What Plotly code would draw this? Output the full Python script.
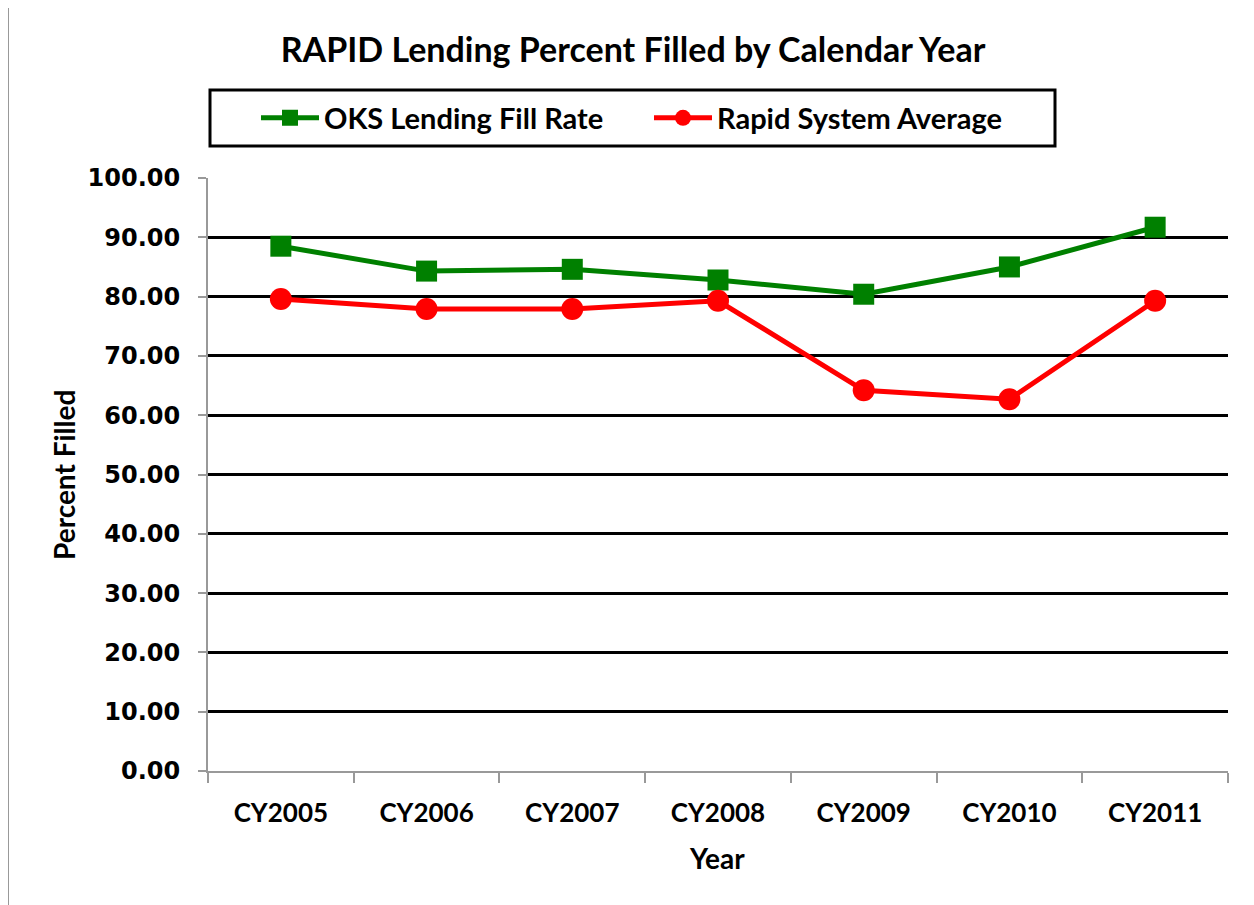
import plotly.graph_objects as go

years = ["CY2005", "CY2006", "CY2007", "CY2008", "CY2009", "CY2010", "CY2011"]
oks_fill_rate = [88.5, 84.3, 84.6, 82.8, 80.4, 85.0, 91.7]
rapid_average = [79.6, 77.9, 77.9, 79.3, 64.2, 62.7, 79.3]
y_ticks = [0, 10, 20, 30, 40, 50, 60, 70, 80, 90, 100]

LBL = "Lato, 'Open Sans', sans-serif"
NUM = "'DejaVu Sans', Verdana, sans-serif"

# plot area in figure pixels (page is offset by 8px body margin)
L, T, PW, PH = 200, 170, 1020, 593


def px(xf):
    return (xf - L) / PW


def py(yf):
    return (T + PH - yf) / PH


fig = go.Figure()
fig.add_trace(go.Scatter(
    x=years, y=oks_fill_rate, name="<b>OKS Lending Fill Rate</b>",
    mode="lines+markers",
    line=dict(color="#008000", width=5),
    marker=dict(symbol="square", size=21, color="#008000"),
))
fig.add_trace(go.Scatter(
    x=years, y=rapid_average, name="<b>Rapid System Average</b>",
    mode="lines+markers",
    line=dict(color="#FF0000", width=5),
    marker=dict(symbol="circle", size=22, color="#FF0000"),
))

fig.update_layout(
    width=1254, height=905,
    margin=dict(l=L, r=1254 - L - PW, t=T, b=905 - T - PH),
    paper_bgcolor="white", plot_bgcolor="white",
    title=dict(text="<b>RAPID Lending Percent Filled by Calendar Year</b>",
               x=625 / 1254, xanchor="center", y=1 - 42 / 905, yanchor="middle",
               font=dict(family=LBL, size=34, color="black")),
    legend=dict(orientation="h", x=px(248), xanchor="left",
                y=py(110), yanchor="middle",
                borderwidth=0, bgcolor="rgba(0,0,0,0)",
                font=dict(family=LBL, size=29, color="black"),
                itemwidth=58, entrywidth=320),
    showlegend=True,
    xaxis=dict(type="category", range=[-0.5, 6.5], tickson="boundaries",
               ticks="outside", ticklen=10, tickcolor="#999999", tickwidth=2,
               showline=True, linecolor="#999999", linewidth=2,
               showgrid=False, ticklabelstandoff=18,
               tickfont=dict(family=LBL, size=26, color="black"),
               tickprefix="<b>", ticksuffix="</b>"),
    yaxis=dict(range=[0, 100], tickvals=y_ticks,
               ticktext=["<b>%.2f</b>" % v for v in y_ticks],
               ticks="outside", ticklen=8, tickcolor="#999999", tickwidth=2,
               showline=True, linecolor="#999999", linewidth=2,
               showgrid=True, gridcolor="black", gridwidth=3,
               zeroline=True, zerolinecolor="#999999", zerolinewidth=2,
               ticklabelstandoff=13,
               tickfont=dict(family=NUM, size=24, color="black")),
)

fig.add_annotation(text="<b>Year</b>", xref="paper", yref="paper",
                   x=px(709), y=py(850), showarrow=False,
                   xanchor="center", yanchor="middle",
                   font=dict(family=LBL, size=28, color="black"))
fig.add_annotation(text="<b>Percent Filled</b>", xref="paper", yref="paper",
                   x=px(56), y=py(467), showarrow=False, textangle=-90,
                   xanchor="center", yanchor="middle",
                   font=dict(family=LBL, size=28, color="black"))

# legend box
fig.add_shape(type="rect", xref="paper", yref="paper",
              x0=px(202), x1=px(1047), y0=py(138), y1=py(82),
              line=dict(color="black", width=3), fillcolor="rgba(0,0,0,0)")

# chart-area border (left edge)
fig.add_shape(type="line", xref="paper", yref="paper",
              x0=px(0), x1=px(0), y0=py(910), y1=py(-10),
              line=dict(color="#999999", width=2))

fig.write_html("out.html")
